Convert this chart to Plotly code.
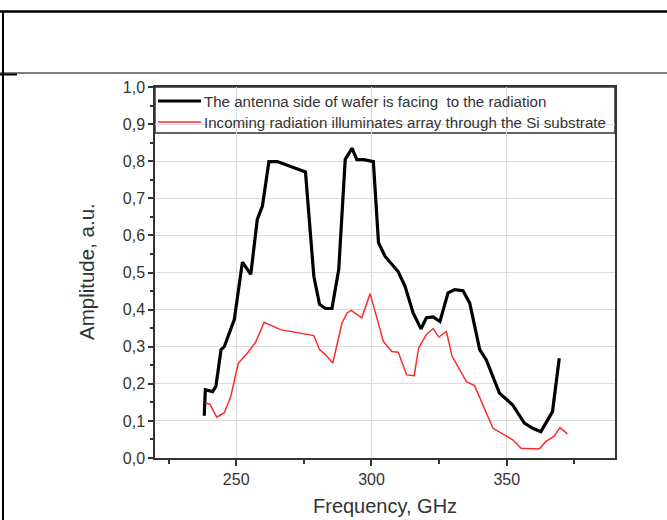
import plotly.graph_objects as go

# ---- data ----
black_freq = [238.2, 238.6, 241.3, 242.5, 244.4, 245.6, 249.3, 252.3, 255.4, 257.8, 259.7,
              262.1, 265.2, 275.6, 278.7, 280.8, 283.0, 285.4, 287.9, 290.3, 292.8, 294.6,
              297.1, 300.7, 302.6, 305.0, 309.9, 312.4, 315.4, 318.3, 320.3, 322.8, 325.3,
              328.3, 330.8, 333.8, 336.3, 340.0, 342.4, 347.3, 352.2, 356.5, 359.6, 362.6,
              366.9, 369.4]
black_amp = [0.114, 0.184, 0.179, 0.193, 0.292, 0.300, 0.373, 0.528, 0.495, 0.643, 0.679,
             0.799, 0.799, 0.771, 0.490, 0.414, 0.403, 0.403, 0.508, 0.805, 0.835, 0.804,
             0.804, 0.799, 0.580, 0.544, 0.502, 0.463, 0.391, 0.348, 0.378, 0.380, 0.368,
             0.445, 0.454, 0.451, 0.418, 0.292, 0.265, 0.175, 0.143, 0.094, 0.080, 0.071,
             0.125, 0.269]

red_freq = [238.6, 240.3, 242.8, 245.6, 248.0, 250.8, 254.2, 257.2, 260.3, 262.8, 266.4,
            278.7, 280.8, 283.0, 285.7, 289.1, 291.0, 292.5, 296.4, 299.5, 304.4, 307.5,
            309.9, 313.0, 315.8, 317.4, 320.3, 322.8, 324.9, 327.7, 329.8, 335.1, 338.1,
            344.9, 349.8, 352.2, 355.3, 362.0, 364.4, 367.5, 369.7, 372.4]
red_amp = [0.148, 0.145, 0.110, 0.122, 0.166, 0.256, 0.283, 0.312, 0.366, 0.357, 0.346,
           0.330, 0.292, 0.278, 0.256, 0.364, 0.391, 0.398, 0.378, 0.443, 0.314, 0.287,
           0.285, 0.224, 0.222, 0.296, 0.333, 0.349, 0.326, 0.341, 0.274, 0.206, 0.195,
           0.080, 0.059, 0.049, 0.026, 0.024, 0.044, 0.059, 0.082, 0.065]

name_black = "The antenna side of wafer is facing  to the radiation"
name_red = "Incoming radiation illuminates array through the Si substrate"

x_title = "Frequency, GHz"
y_title = "Amplitude, a.u."

# ---- layout geometry ----
W, H = 667, 520
L, R, T, B = 155, 52, 87, 62
PW, PH = W - L - R, H - T - B

def px(x):
    return (x - L) / PW

def py(y):
    return (H - B - y) / PH

TXT = "#333333"
FONT = "Liberation Sans, Arial, sans-serif"
BLACK_STYLE = dict(color="black", width=3.2)
RED_STYLE = dict(color="#ff2a2a", width=1.5)

fig = go.Figure()
fig.add_trace(go.Scatter(x=black_freq, y=black_amp, mode="lines", name=name_black,
                         line=BLACK_STYLE, showlegend=False))
fig.add_trace(go.Scatter(x=red_freq, y=red_amp, mode="lines", name=name_red,
                         line=RED_STYLE, showlegend=False))

shapes = [
    # legend box
    dict(type="rect", xref="paper", yref="paper", x0=0, x1=1, y0=py(133), y1=1,
         fillcolor="white", line=dict(color="#333333", width=1.5), layer="between"),
    # legend samples
    dict(type="line", xref="paper", yref="paper", x0=px(158), x1=px(201), y0=py(101), y1=py(101),
         line=BLACK_STYLE, layer="above"),
    dict(type="line", xref="paper", yref="paper", x0=px(158), x1=px(201), y0=py(122), y1=py(122),
         line=RED_STYLE, layer="above"),
    # table lines
    dict(type="line", xref="paper", yref="paper", x0=px(0), x1=px(W), y0=py(11.5), y1=py(11.5),
         line=dict(color="black", width=2.5)),
    dict(type="line", xref="paper", yref="paper", x0=px(0), x1=px(W), y0=py(73), y1=py(73),
         line=dict(color="black", width=1.2)),
    dict(type="line", xref="paper", yref="paper", x0=px(3), x1=px(3), y0=py(11), y1=py(H),
         line=dict(color="black", width=2)),
    dict(type="line", xref="paper", yref="paper", x0=px(0), x1=px(17), y0=py(74.5), y1=py(74.5),
         line=dict(color="black", width=2)),
]

annotations = [
    dict(text=name_black, xref="paper", yref="paper", x=px(202), y=py(101),
         xanchor="left", yanchor="middle", showarrow=False,
         font=dict(size=15.1, color=TXT, family=FONT)),
    dict(text=name_red, xref="paper", yref="paper", x=px(202), y=py(122),
         xanchor="left", yanchor="middle", showarrow=False,
         font=dict(size=15.1, color=TXT, family=FONT)),
    dict(text=x_title, xref="paper", yref="paper", x=0.5, y=py(506),
         xanchor="center", yanchor="middle", showarrow=False,
         font=dict(size=20, color=TXT, family=FONT)),
    dict(text=y_title, xref="paper", yref="paper", x=px(86), y=py(272),
         xanchor="center", yanchor="middle", showarrow=False, textangle=-90,
         font=dict(size=20.5, color=TXT, family=FONT)),
]

fig.update_layout(
    width=W, height=H,
    margin=dict(l=L, r=R, t=T, b=B, autoexpand=False),
    paper_bgcolor="white", plot_bgcolor="white",
    separators=",.",
    font=dict(family=FONT, color=TXT),
    showlegend=False,
    shapes=shapes,
    annotations=annotations,
    xaxis=dict(range=[220, 390], tick0=0, dtick=50, ticks="outside", ticklen=6,
               tickwidth=1.5, tickcolor="#333333", automargin=False,
               showline=True, linecolor="#333333", linewidth=1.5, mirror=True,
               showgrid=True, gridcolor="#dcdcdc", gridwidth=1, zeroline=False,
               tickfont=dict(size=16, color=TXT),
               minor=dict(dtick=25, tick0=0, ticks="outside", ticklen=4, tickcolor="#333333",
                          showgrid=False)),
    yaxis=dict(range=[0, 1.0], dtick=0.1, tickformat=".1f", ticks="outside", ticklen=5,
               tickwidth=1.5, tickcolor="#333333", automargin=False,
               showline=True, linecolor="#333333", linewidth=1.5, mirror=True,
               showgrid=True, gridcolor="#dcdcdc", gridwidth=1, zeroline=False,
               tickfont=dict(size=16, color=TXT),
               minor=dict(dtick=0.05, ticks="outside", ticklen=3, tickcolor="#333333",
                          showgrid=False)),
)

fig.write_html("out.html")
